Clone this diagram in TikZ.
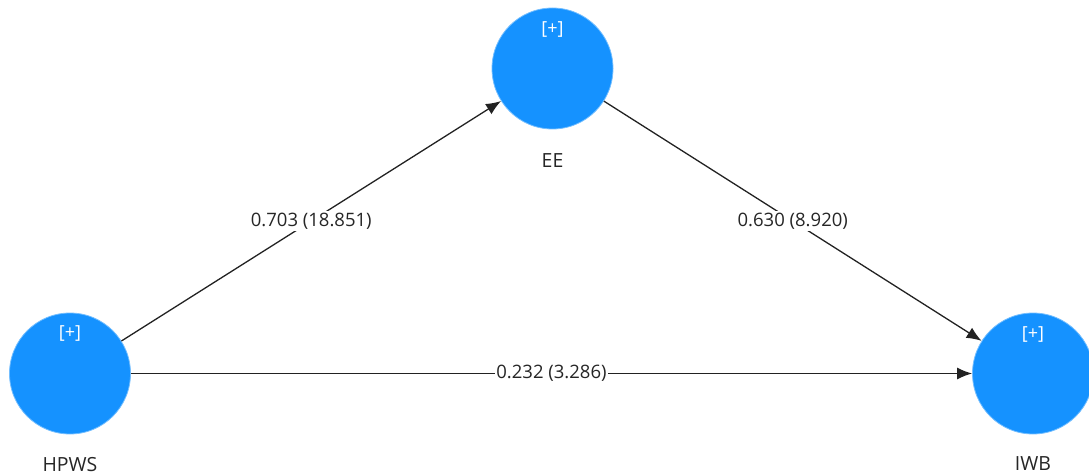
\documentclass[tikz,border=0pt]{standalone}
\usepackage{fontspec}
\setmainfont{Open Sans}
\usetikzlibrary{arrows.meta,calc}
\definecolor{lvblue}{HTML}{1592FF}
\definecolor{linegray}{HTML}{222222}
\tikzset{
  lv/.style={circle, fill=lvblue, draw=lvblue!60!white, line width=0.8pt, minimum size=121pt, inner sep=0pt},
  plus/.style={text=white, font=\fontsize{18}{20}\selectfont, inner sep=0pt},
  lvname/.style={text=black!85, font=\fontsize{19.5}{22}\selectfont, inner sep=0pt},
  path/.style={draw=linegray, line width=1.3pt, -{Latex[length=15pt,width=12pt]}},
  coef/.style={fill=white, text=black!85, font=\fontsize{18.5}{21}\selectfont, inner sep=1.5pt}
}
\begin{document}
\begin{tikzpicture}[x=1pt,y=-1pt]
\useasboundingbox (0,0) rectangle (1089,476);
\node[lv] (hpws) at (70,373.5) {};
\node[lv] (ee) at (552.5,68.5) {};
\node[lv] (iwb) at (1033,373.5) {};
\node[plus] (hpwsplus) at ($(hpws)+(0,-40)$) {[+]};
\node[plus] (eeplus) at ($(ee)+(0,-39)$) {[+]};
\node[plus] (iwbplus) at ($(iwb)+(0,-39)$) {[+]};
\node[lvname] (hpwsname) at ($(hpws)+(0,91)$) {HPWS};
\node[lvname] (eename) at ($(ee)+(0,92)$) {EE};
\node[lvname] (iwbname) at ($(iwb)+(0,90)$) {IWB};
\draw[path] (hpws) -- (ee) node[coef, midway] (c1) {0.703 (18.851)};
\draw[path] (ee) -- (iwb) node[coef, midway] (c2) {0.630 (8.920)};
\draw[path] (hpws) -- (iwb) node[coef, midway] (c3) {0.232 (3.286)};
\end{tikzpicture}
\end{document}
